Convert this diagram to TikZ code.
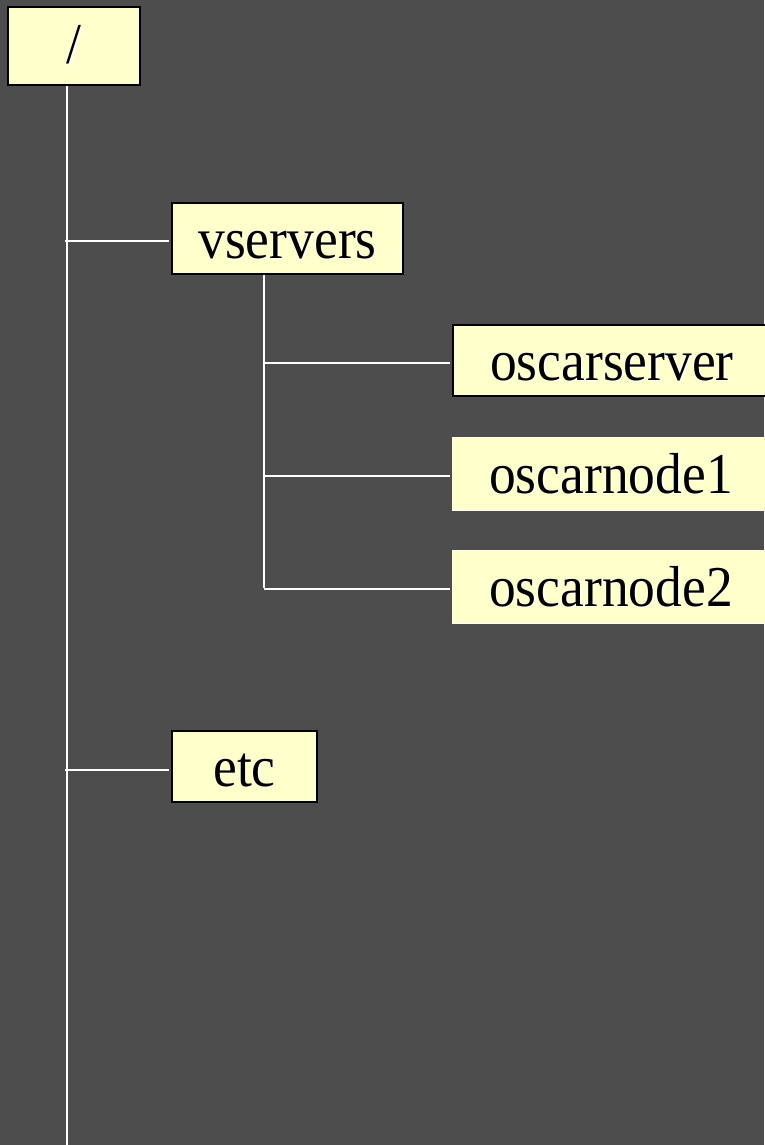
\documentclass[tikz,border=0pt]{standalone}
\usepackage{fontspec}
\setmainfont{Liberation Serif}
\definecolor{bgdark}{HTML}{4D4D4D}
\definecolor{boxyellow}{HTML}{FFFFCC}
\newcommand{\shtext}[1]{\scalebox{1}[1.08]{\rlap{\hspace{1.6pt}\raisebox{-1.6pt}{\color{white}#1}}#1}}
\begin{document}
\begin{tikzpicture}
    \def\dx{1pt}
    \def\dy{-1pt}

    \useasboundingbox (0,0) rectangle (764*\dx,1145*\dy);
    \fill[bgdark] (0,0) rectangle (764*\dx,1145*\dy);

    \tikzstyle{dir}=[fill=boxyellow,draw=black,line width=1.6pt,inner sep=0pt,minimum height=71pt,text height=39pt,text depth=0pt,font=\fontsize{53.5}{60}\selectfont]
    \tikzstyle{vnode}=[dir,draw=white!85!boxyellow,line width=1pt]

    \node[dir,minimum width=132pt,minimum height=78pt,text height=36pt]  (root) at (74*\dx,46*\dy) {\shtext{/}};
    \node[dir,minimum width=231pt]  (vservers) at (287.5*\dx,238.5*\dy) {\shtext{vservers}};
    \node[dir,minimum width=318pt]  (oscarserver) at (612*\dx,360.5*\dy) {\shtext{oscarserver}};
    \node[vnode,minimum width=318pt,minimum height=73pt]  (oscarnode1) at (611*\dx,473.5*\dy) {\shtext{oscarnode1}};
    \node[vnode,minimum width=318pt,minimum height=73pt]  (oscarnode2) at (611*\dx,586.5*\dy) {\shtext{oscarnode2}};
    \node[dir,minimum width=145pt]  (etc) at (244.5*\dx,766.5*\dy) {\shtext{etc}};

    \coordinate (trunk) at (67*\dx,1145*\dy);
    \coordinate (vtrunk) at (264*\dx,588*\dy);

    \tikzstyle{branch} = [draw=white, line width=1.8pt]

          \draw [branch] (root.south -| trunk) -- (trunk);
          \draw [branch] ([shift={(-2pt,-2.5pt)}]trunk |- vservers.west) -- ([shift={(-2pt,-2.5pt)}]vservers.west);
          \draw [branch] ([shift={(-2pt,-3.5pt)}]trunk |- etc.west) -- ([shift={(-2pt,-3.5pt)}]etc.west);
          \draw [branch] (vservers.south -| vtrunk) -- (vtrunk);
          \draw [branch] ([yshift=-2.5pt]vtrunk |- oscarserver.west) -- ([shift={(-2pt,-2.5pt)}]oscarserver.west);
          \draw [branch] ([yshift=-2.5pt]vtrunk |- oscarnode1.west) -- ([shift={(-2pt,-2.5pt)}]oscarnode1.west);
          \draw [branch] ([yshift=-2.5pt]vtrunk |- oscarnode2.west) -- ([shift={(-2pt,-2.5pt)}]oscarnode2.west);
  \end{tikzpicture}
\end{document}
